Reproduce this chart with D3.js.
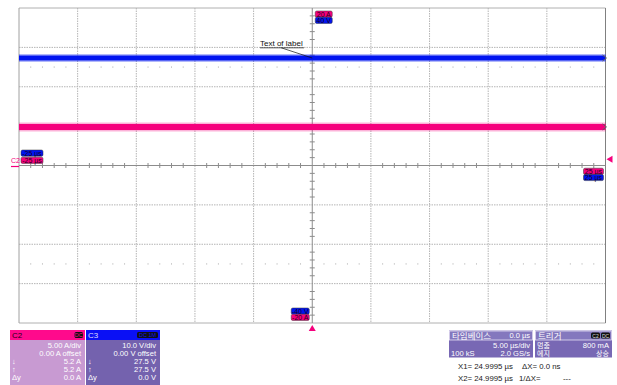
<!DOCTYPE html>
<html>
<head>
<meta charset="utf-8">
<script src="https://cdn.jsdelivr.net/npm/d3@7"></script>
<style>
  html, body { margin: 0; padding: 0; background: #fff; }
  svg { display: block; font-family: 'Liberation Sans', Arial, sans-serif; }
  .kr { font-family: 'Noto Sans CJK KR', 'Liberation Sans', sans-serif; }
</style>
</head>
<body>
<div id="scope"></div>
<script>
// screen span and channel settings
const timeSpanUs = [-25, 25];          // 5.00 us/div, 10 div
const c2RangeA = [-20, 20];            // 5.00 A/div, 8 div
const c3RangeV = [-40, 40];            // 10.0 V/div, 8 div
const triggerLevelA = 0.8;

// traces (flat lines)
const traceTimeUs = [-25, 25];
const c2Amps = [4.9, 4.9];
const c3Volts = [27.3, 27.3];

// panel texts
const c2Rows = ['5.00 A/div', '0.00 A offset', '5.2 A', '5.2 A', '0.0 A'];
const c3Rows = ['10.0 V/div', '0.00 V offset', '27.5 V', '27.5 V', '0.0 V'];
const rowSymbols = ['', '', '↓', '↑', 'Δy'];
const timebaseRows = [['', '5.00 µs/div'], ['100 kS', '2.0 GS/s']];
const triggerRows = [['멈춤', '800 mA'], ['에지', '상승']];
const cursorRows = [['X1= 24.9995 µs', 'ΔX= 0.0 ns', ''], ['X2= 24.9995 µs', '1/ΔX=', '---']];

const pink = '#f5007d';
const blue = '#0014f0';

const W = 617, H = 385;
const plot = { left: 19, top: 8, right: 605.5, bottom: 323 };

const svg = d3.select('#scope').append('svg')
  .attr('width', W).attr('height', H);

const x = d3.scaleLinear().domain(timeSpanUs).range([plot.left, plot.right]);
const yA = d3.scaleLinear().domain(c2RangeA).range([plot.bottom, plot.top]);
const yV = d3.scaleLinear().domain(c3RangeV).range([plot.bottom, plot.top]);

const divX = d3.range(timeSpanUs[0], timeSpanUs[1] + 0.01, 5);
const divY = d3.range(c3RangeV[0], c3RangeV[1] + 0.01, 10);

// dotted grid
const grid = svg.append('g');
grid.selectAll('.gx').data(divX.filter(d => d !== 0 && d !== timeSpanUs[0] && d !== timeSpanUs[1]))
  .enter().append('line')
  .attr('x1', d => x(d)).attr('x2', d => x(d))
  .attr('y1', plot.top).attr('y2', plot.bottom)
  .attr('stroke', '#b4b4b4').attr('stroke-dasharray', '1.5,1');
grid.selectAll('.gy').data(divY.filter(d => d !== 0 && d !== c3RangeV[0] && d !== c3RangeV[1]))
  .enter().append('line')
  .attr('x1', plot.left).attr('x2', plot.right)
  .attr('y1', d => yV(d)).attr('y2', d => yV(d))
  .attr('stroke', '#b4b4b4').attr('stroke-dasharray', '1.5,1');

// sparse dots at +-2.5 div
const subX = d3.range(timeSpanUs[0], timeSpanUs[1] + 0.01, 1).filter(d => d % 5 !== 0);
[25, -25].forEach(v => {
  grid.selectAll(null).data(subX).enter().append('rect')
    .attr('x', d => x(d) - 0.5).attr('y', yV(v) - 0.5)
    .attr('width', 1).attr('height', 1).attr('fill', '#a8a8a8');
});

// border
svg.append('line').attr('x1', plot.left).attr('x2', plot.right)
  .attr('y1', plot.top).attr('y2', plot.top).attr('stroke', '#b0b0b0');
svg.append('line').attr('x1', plot.left).attr('x2', plot.right)
  .attr('y1', plot.bottom).attr('y2', plot.bottom).attr('stroke', '#b0b0b0');
svg.append('line').attr('x1', plot.left).attr('x2', plot.left)
  .attr('y1', plot.top).attr('y2', plot.bottom).attr('stroke', '#a0a0a0');
svg.append('line').attr('x1', plot.right).attr('x2', plot.right)
  .attr('y1', plot.top).attr('y2', plot.bottom).attr('stroke', '#808080');

// centre axes with minor ticks
const axisCol = '#8c8c8c';
svg.append('line').attr('x1', plot.left).attr('x2', plot.right)
  .attr('y1', yV(0)).attr('y2', yV(0)).attr('stroke', axisCol);
svg.append('line').attr('x1', x(0)).attr('x2', x(0))
  .attr('y1', plot.top).attr('y2', plot.bottom).attr('stroke', axisCol);
svg.selectAll('.tx').data(subX).enter().append('line')
  .attr('x1', d => x(d)).attr('x2', d => x(d))
  .attr('y1', yV(0) - 2.5).attr('y2', yV(0) + 2.5).attr('stroke', axisCol);
const subY = d3.range(c3RangeV[0], c3RangeV[1] + 0.01, 2).filter(d => d % 10 !== 0);
svg.selectAll('.ty').data(subY).enter().append('line')
  .attr('x1', x(0) - 2.5).attr('x2', x(0) + 2.5)
  .attr('y1', d => yV(d)).attr('y2', d => yV(d)).attr('stroke', axisCol);

// traces
function drawTrace(vals, y, col, w) {
  const pts = traceTimeUs.map((t, i) => [t, vals[i]]);
  const line = d3.line().x(d => x(d[0])).y(d => y(d[1]));
  svg.append('path').datum(pts).attr('d', line)
    .attr('stroke', col).attr('stroke-width', w + 3).attr('opacity', 0.3).attr('fill', 'none');
  svg.append('path').datum(pts).attr('d', line)
    .attr('stroke', col).attr('stroke-width', w).attr('fill', 'none');
  // edge marker on right border
  const yy = y(vals[vals.length - 1]);
  svg.append('path')
    .attr('d', `M${plot.right - 3},${yy - 3} L${plot.right + 1},${yy} L${plot.right - 3},${yy + 3}`)
    .attr('stroke', '#606060').attr('fill', 'none');
}
drawTrace(c3Volts, yV, blue, 5);
drawTrace(c2Amps, yA, pink, 6);

// small label boxes
function tag(xl, yt, w, col, txt) {
  svg.append('rect').attr('x', xl).attr('y', yt).attr('width', w).attr('height', 6.2)
    .attr('rx', 1.5).attr('fill', col).attr('stroke', '#333').attr('stroke-width', 0.5);
  svg.append('text').attr('x', xl + w / 2).attr('y', yt + 5.6)
    .attr('text-anchor', 'middle').attr('font-size', 7).attr('fill', '#1a001a').text(txt);
}
const fmtUs = d => `${d} µs`;
tag(x(0) + 3, 11, 17, pink, `${c2RangeA[1]} A`);
tag(x(0) + 3, 17.2, 17, blue, `${c3RangeV[1]} V`);
tag(x(0) - 21, 308, 18, blue, `${c3RangeV[0]} V`);
tag(x(0) - 21, 314.2, 18, pink, `${c2RangeA[0]} A`);
tag(plot.left + 2, 150, 22, blue, fmtUs(timeSpanUs[0]));
tag(plot.left + 2, 157.2, 22, pink, fmtUs(timeSpanUs[0]));
tag(plot.right - 22, 168.2, 20, pink, fmtUs(timeSpanUs[1]));
tag(plot.right - 22, 174.4, 20, blue, fmtUs(timeSpanUs[1]));

// ground marker C2
svg.append('text').attr('x', 11).attr('y', 163).attr('font-size', 7).attr('fill', pink).text('C2');
svg.append('line').attr('x1', 11).attr('x2', 19).attr('y1', yA(0) + 1).attr('y2', yA(0) + 1)
  .attr('stroke', pink).attr('stroke-width', 1.2);

// trigger level and position markers
const ty = yA(triggerLevelA);
svg.append('path').attr('d', `M${plot.right + 1},${ty} L${plot.right + 7},${ty - 3.5} L${plot.right + 7},${ty + 3.5}Z`)
  .attr('fill', pink);
svg.append('path').attr('d', `M${x(0)},${plot.bottom + 2} L${x(0) - 3.5},${plot.bottom + 8} L${x(0) + 3.5},${plot.bottom + 8}Z`)
  .attr('fill', pink);

// annotation
svg.append('text').attr('x', 260).attr('y', 45.5).attr('font-size', 8).attr('fill', '#111').text('Text of label');
svg.append('line').attr('x1', 260).attr('x2', 304).attr('y1', 47.8).attr('y2', 47.8).attr('stroke', '#111').attr('stroke-width', 0.7);
svg.append('line').attr('x1', x(0) - 31).attr('x2', x(0)).attr('y1', 47.8).attr('y2', yV(c3Volts[0]))
  .attr('stroke', '#111').attr('stroke-width', 0.7);

// channel panels
function channelPanel(xl, w, headCol, bodyCol, name, nameCol, badge, rows) {
  const g = svg.append('g');
  g.append('rect').attr('x', xl).attr('y', 330).attr('width', w).attr('height', 60).attr('fill', bodyCol);
  g.append('rect').attr('x', xl).attr('y', 330).attr('width', w).attr('height', 10).attr('fill', headCol);
  g.append('text').attr('x', xl + 2).attr('y', 338).attr('font-size', 8).attr('fill', nameCol).text(name);
  g.append('rect').attr('x', xl + w - 2 - badge.length * 4.2).attr('y', 332).attr('width', badge.length * 4.2)
    .attr('height', 6).attr('rx', 1.5).attr('fill', '#111');
  g.append('text').attr('x', xl + w - 2 - badge.length * 2.1).attr('y', 337.3).attr('text-anchor', 'middle')
    .attr('font-size', 5.5).attr('fill', headCol).text(badge);
  rows.forEach((r, i) => {
    const by = 347.8 + i * 8.1;
    g.append('text').attr('x', xl + w - 4).attr('y', by).attr('text-anchor', 'end')
      .attr('font-size', 7.6).attr('fill', '#fff').text(r);
    if (rowSymbols[i]) {
      g.append('text').attr('x', xl + 2).attr('y', by).attr('font-size', 7.6).attr('fill', '#fff').text(rowSymbols[i]);
    }
  });
}
channelPanel(10, 75, '#ff0a8c', '#c89ad2', 'C2', '#220018', 'DC', c2Rows);
channelPanel(86, 74, '#0a10f5', '#7462ae', 'C3', '#dcdcff', 'DC 1M', c3Rows);

// timebase / trigger panels
function infoPanel(xl, w, title, headRight, badges, rows) {
  const g = svg.append('g');
  g.append('rect').attr('x', xl).attr('y', 330.5).attr('width', w).attr('height', 27).attr('fill', '#7868b4');
  g.append('rect').attr('x', xl + 0.5).attr('y', 331).attr('width', w - 1).attr('height', 9)
    .attr('fill', '#8478be').attr('stroke', '#e6e0f4').attr('stroke-width', 0.8);
  g.append('text').attr('class', 'kr').attr('x', xl + 3).attr('y', 338.6).attr('font-size', 8.5)
    .attr('fill', '#fff').text(title);
  if (headRight) {
    g.append('text').attr('x', xl + w - 3).attr('y', 338.3).attr('text-anchor', 'end')
      .attr('font-size', 7.5).attr('fill', '#fff').text(headRight);
  }
  badges.forEach((b, i) => {
    const bx = xl + w - 21 + i * 10;
    g.append('rect').attr('x', bx).attr('y', 332.5).attr('width', 9).attr('height', 6).attr('rx', 1.5).attr('fill', '#111');
    g.append('text').attr('x', bx + 4.5).attr('y', 337.6).attr('text-anchor', 'middle')
      .attr('font-size', 5).attr('fill', '#ddd').text(b);
  });
  rows.forEach((r, i) => {
    const by = 347.6 + i * 8.6;
    if (r[0]) {
      g.append('text').attr('class', /[가-힣]/.test(r[0]) ? 'kr' : null).attr('x', xl + 2).attr('y', by)
        .attr('font-size', /[가-힣]/.test(r[0]) ? 7 : 7.6).attr('fill', '#fff').text(r[0]);
    }
    g.append('text').attr('x', xl + w - 3).attr('y', by).attr('text-anchor', 'end')
      .attr('class', /[가-힣]/.test(r[1]) ? 'kr' : null)
      .attr('font-size', /[가-힣]/.test(r[1]) ? 7 : 7.6).attr('fill', '#fff').text(r[1]);
  });
}
infoPanel(449, 84, '타임베이스', '0.0 µs', [], timebaseRows);
infoPanel(535, 77, '트리거', '', ['C2', 'DC'], triggerRows);

// cursor readout
const cursorX = [458, 522, 563];
cursorRows.forEach((r, i) => {
  r.forEach((t, j) => {
    if (!t) return;
    svg.append('text').attr('x', j === 1 && i === 1 ? cursorX[1] - 3 : cursorX[j]).attr('y', 368.5 + i * 12.5)
      .attr('font-size', 7.8).attr('fill', '#222').text(t);
  });
});
</script>
</body>
</html>
